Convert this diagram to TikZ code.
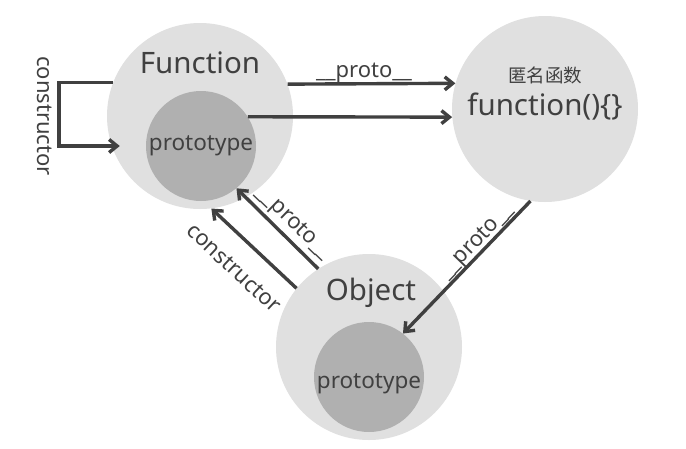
\documentclass[tikz,border=0pt]{standalone}
\usepackage{fontspec}
\setmainfont{Noto Sans}
\newfontfamily\cjk{Noto Sans CJK SC}
\usetikzlibrary{arrows.meta}
\definecolor{outerg}{HTML}{E0E0E0}
\definecolor{innerg}{HTML}{B0B0B0}
\definecolor{ink}{HTML}{404040}
\begin{document}
\begin{tikzpicture}[x=1pt,y=-1pt,
  outerc/.style={circle,fill=outerg,minimum size=186pt,inner sep=0pt},
  innerc/.style={circle,fill=innerg,minimum size=110pt,inner sep=0pt},
  arr/.style={draw=ink,line width=3.4pt,-{Straight Barb[length=8pt,width=13pt]}},
  lbl/.style={text=ink,font=\fontsize{22}{25}\selectfont,inner sep=0pt},
  big/.style={text=ink,font=\fontsize{29.5}{33}\selectfont,inner sep=0pt},
  mid/.style={text=ink,font=\fontsize{22.5}{25}\selectfont,inner sep=0pt}]
\fill[white] (0,0) rectangle (686,448);
\useasboundingbox (0,0) rectangle (686,448);
% circles
\node[outerc] (F) at (200,116) {};
\node[innerc] (Fp) at (201,146) {};
\node[outerc] (A) at (545,109) {};
\node[outerc] (O) at (369,347) {};
\node[innerc] (Op) at (369,377) {};
% texts
\node[big] (tF) at (200,63) {Function};
\node[mid] (tFp) at (201,146) {prototype};
\node[text=ink,font=\cjk\fontsize{18.5}{20}\selectfont,inner sep=0pt] (tA1) at (545,75) {匿名函数};
\node[big] (tA2) at (545,107) {function()\{\}};
\node[big] (tO) at (371,293) {Object};
\node[mid] (tOp) at (369,384) {prototype};
% connectors
\draw[arr] (F.20) -- (A.164);
\draw[arr] (Fp.32) -- (A.185);
\coordinate (loopend) at ([xshift=-26pt]Fp.west);
\draw[arr] (F.159) -- ++(-54,0) |- (loopend);
\draw[arr] (O.123) -- (Fp.-50);
\draw[arr] (O.141) -- (F.-83);
\draw[arr] (A.-99) -- (Op.52);
% labels
\node[lbl,anchor=base] (l1) at (364,77) {\_\_proto\_\_};
\node[lbl,rotate=-90] (l2) at (45,116) {constructor};
\node[lbl,rotate=-44] (l3) at (293,223) {\_\_proto\_\_};
\node[lbl,rotate=-43] (l4) at (234,268) {constructor};
\node[lbl,rotate=46] (l5) at (477,242) {\_\_proto\_\_};
\end{tikzpicture}
\end{document}
